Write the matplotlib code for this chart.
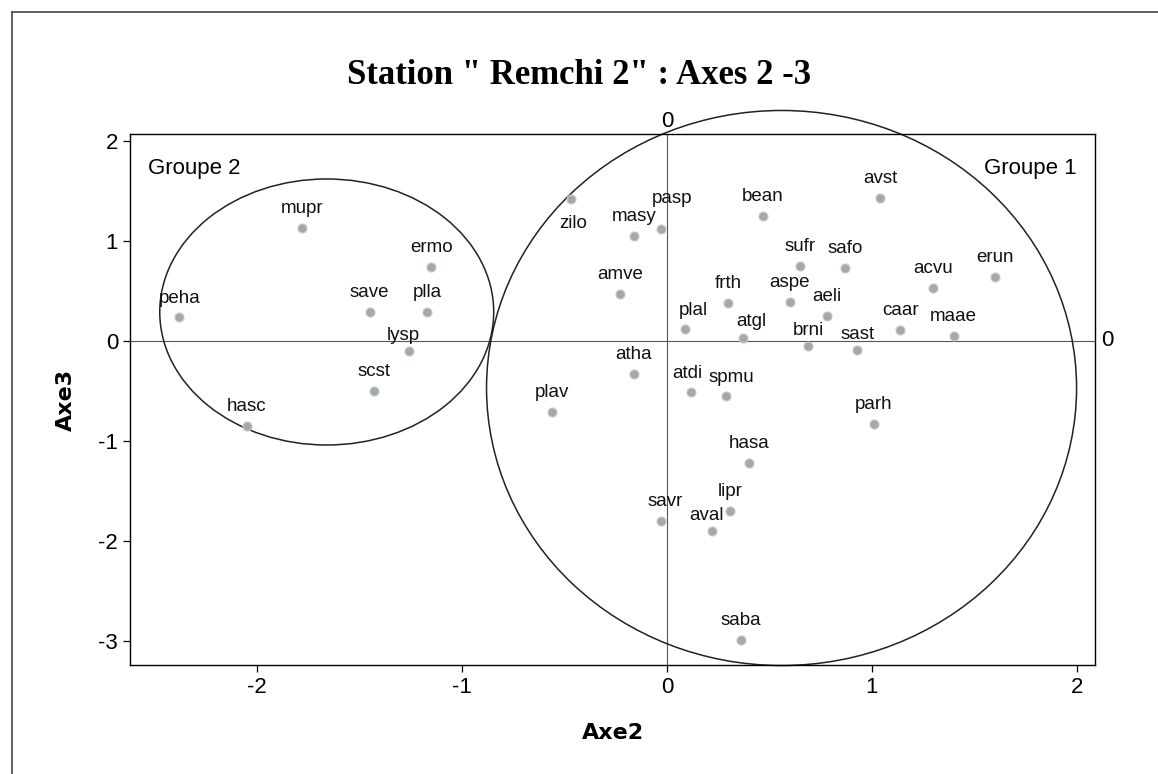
import matplotlib
matplotlib.use('Agg')
from matplotlib import pyplot as plt
from matplotlib.patches import Ellipse
from matplotlib.lines import Line2D

plt.rcParams['axes.unicode_minus'] = False

# Coordonnees des especes sur les axes 2 et 3
especes = ['peha', 'mupr', 'ermo', 'save', 'plla', 'lysp', 'scst', 'hasc',
           'zilo', 'masy', 'pasp', 'bean', 'avst', 'sufr', 'safo', 'erun',
           'amve', 'frth', 'aspe', 'acvu', 'aeli', 'plal', 'atgl', 'caar',
           'maae', 'brni', 'sast', 'atha', 'atdi', 'spmu', 'plav', 'parh',
           'hasa', 'lipr', 'savr', 'aval', 'saba']
axe2 = [-2.38, -1.78, -1.15, -1.45, -1.17, -1.26, -1.43, -2.05,
        -0.47, -0.16, -0.03, 0.47, 1.04, 0.65, 0.87, 1.60,
        -0.23, 0.30, 0.60, 1.30, 0.78, 0.09, 0.37, 1.14,
        1.40, 0.69, 0.93, -0.16, 0.12, 0.29, -0.56, 1.01,
        0.40, 0.31, -0.03, 0.22, 0.36]
axe3 = [0.24, 1.13, 0.74, 0.29, 0.29, -0.10, -0.50, -0.85,
        1.42, 1.05, 1.12, 1.25, 1.43, 0.75, 0.73, 0.64,
        0.47, 0.38, 0.39, 0.53, 0.25, 0.12, 0.03, 0.11,
        0.05, -0.05, -0.09, -0.33, -0.51, -0.55, -0.71, -0.83,
        -1.22, -1.70, -1.80, -1.90, -2.99]

# label offsets (points) for a few crowded names
decal = {'plal': (6, 7), 'atgl': (6, 6), 'lysp': (-4, 5), 'atdi': (-3, 7),
         'spmu': (4, 7), 'aval': (-4, 5), 'savr': (3, 8),
         'pasp': (8, 16), 'zilo': (2, -24), 'brni': (0, 5), 'sast': (0, 5),
         'peha': (0, 7)}

fig = plt.figure(figsize=(11.58, 7.74), dpi=100)
ax = fig.add_axes([0.1123, 0.1408, 0.8333, 0.6861])

ax.set_xlim(-2.62, 2.09)
ax.set_ylim(-3.24, 2.07)

ax.axhline(0, color='#555555', lw=0.8, zorder=1)
ax.axvline(0, color='#555555', lw=0.8, zorder=1)

ax.scatter(axe2, axe3, s=42, color='#a3a9a9', edgecolor='#c4c8c8',
           linewidth=0.8, zorder=3)
for nom, x, y in zip(especes, axe2, axe3):
    dx, dy = decal.get(nom, (0, 8))
    ax.annotate(nom, (x, y), xytext=(dx, dy), textcoords='offset points',
                ha='center', va='bottom', fontsize=13.5,
                family='Liberation Sans', color='#111111', zorder=4)

# groupes
g2 = Ellipse((-1.66, 0.29), 1.63, 2.66, fill=False, color='#222222', lw=1.1)
g1 = Ellipse((0.56, -0.47), 2.88, 5.55, fill=False, color='#222222', lw=1.1,
             clip_on=False)
ax.add_patch(g2)
ax.add_patch(g1)

ax.text(-2.53, 1.72, 'Groupe 2', fontsize=16, family='Liberation Sans',
        va='center', ha='left')
ax.text(2.00, 1.72, 'Groupe 1', fontsize=16, family='Liberation Sans',
        va='center', ha='right')

# etiquettes des lignes de reference
ax.text(0, 2.09, '0', fontsize=16, ha='center', va='bottom',
        family='Liberation Sans')
ax.text(2.12, 0, '0', fontsize=16, ha='left', va='center',
        family='Liberation Sans')

ax.set_xticks([-2, -1, 0, 1, 2])
ax.set_yticks([-3, -2, -1, 0, 1, 2])
ax.tick_params(labelsize=16, length=5, width=0.9, direction='out')
for lab in ax.get_xticklabels() + ax.get_yticklabels():
    lab.set_family('Liberation Sans')
for s in ax.spines.values():
    s.set_linewidth(1.0)

ax.set_xlabel('Axe2', fontsize=16, fontweight='bold', labelpad=18)
ax.set_ylabel('Axe3', fontsize=16, fontweight='bold', labelpad=16)

fig.text(0.5, 0.903, 'Station " Remchi 2" : Axes 2 -3', fontsize=25,
         fontweight='bold', family='Liberation Serif', ha='center',
         va='center')

# cadre de la figure
fig.add_artist(Line2D([0.0105, 0.0105], [0.0, 0.984], transform=fig.transFigure,
                      color='#444444', lw=1.2))
fig.add_artist(Line2D([0.0105, 1.0], [0.984, 0.984], transform=fig.transFigure,
                      color='#444444', lw=1.2))

fig.savefig('out.png', dpi=100)
